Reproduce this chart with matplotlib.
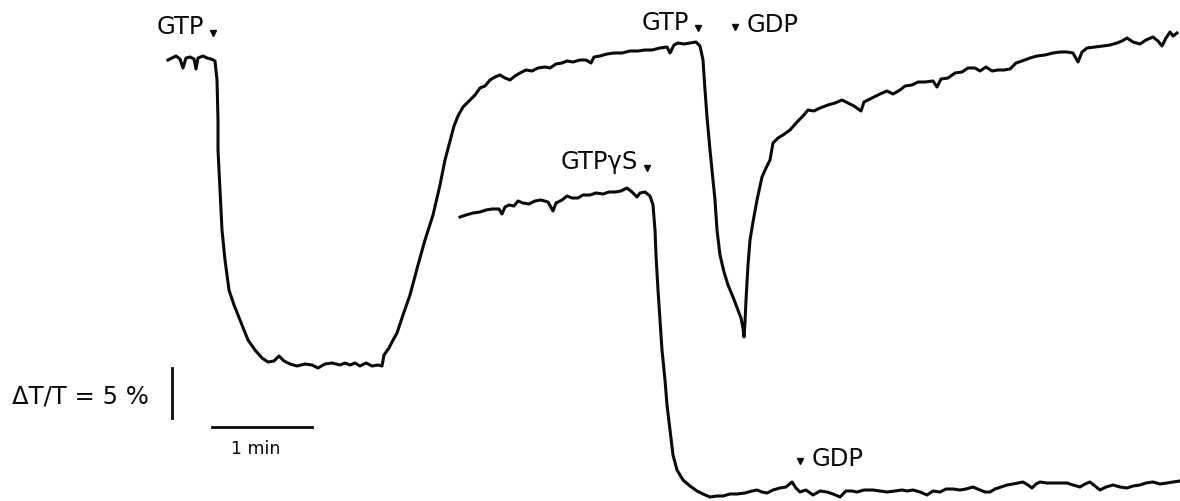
import matplotlib.pyplot as plt

# upper trace: GTP, then GTP + GDP  (time in min, signal in % dT/T, arbitrary offset)
t_gtp = [-0.02, 0.02, 0.06, 0.10, 0.13, 0.16, 0.20, 0.24, 0.26, 0.28, 0.33, 0.37, 0.41, 0.45,
         0.47, 0.48, 0.48, 0.50, 0.52, 0.55, 0.59, 0.64, 0.70, 0.78, 0.85, 0.92, 0.98, 1.04,
         1.09, 1.14, 1.20, 1.27, 1.35, 1.42, 1.48, 1.55, 1.62, 1.70, 1.75, 1.80, 1.85, 1.90,
         1.96, 2.02, 2.08, 2.12, 2.14, 2.19, 2.22, 2.27, 2.33, 2.40, 2.48, 2.55, 2.63, 2.70,
         2.75, 2.79, 2.84, 2.88, 2.93, 3.00, 3.05, 3.10, 3.15, 3.20, 3.25, 3.30, 3.35, 3.40,
         3.45, 3.50, 3.56, 3.62, 3.68, 3.75, 3.80, 3.86, 3.92, 3.97, 4.03, 4.10, 4.16, 4.21,
         4.24, 4.30, 4.37, 4.44, 4.52, 4.60, 4.68, 4.75, 4.82, 4.90, 4.97, 5.00, 5.04, 5.08,
         5.14, 5.20, 5.26, 5.30, 5.33, 5.35, 5.37, 5.40, 5.43, 5.45, 5.47, 5.50, 5.54, 5.58,
         5.63, 5.68, 5.71, 5.73, 5.74, 5.75, 5.76, 5.78, 5.80, 5.83, 5.87, 5.92, 5.96, 6.00,
         6.03, 6.08, 6.13, 6.20, 6.27, 6.33, 6.38, 6.44, 6.50, 6.58, 6.65, 6.72, 6.78, 6.84,
         6.91, 6.94, 7.02, 7.10, 7.17, 7.23, 7.30, 7.35, 7.42, 7.48, 7.55, 7.63, 7.67, 7.71,
         7.78, 7.85, 7.92, 7.98, 8.05, 8.10, 8.16, 8.22, 8.28, 8.34, 8.40, 8.46, 8.52, 8.60,
         8.67, 8.75, 8.83, 8.90, 8.97, 9.03, 9.08, 9.12, 9.17, 9.25, 9.33, 9.40, 9.47, 9.52,
         9.57, 9.63, 9.70, 9.76, 9.83, 9.88, 9.92, 9.96, 10.00, 10.03, 10.07]
s_gtp = [44.0, 44.2, 44.4, 44.1, 43.2, 44.2, 44.3, 44.1, 43.1, 44.2, 44.4, 44.2, 44.1, 43.9,
         42.0, 38.0, 35.0, 31.0, 27.0, 24.0, 21.0, 19.5, 18.0, 16.0, 15.0, 14.2, 13.8, 13.9,
         14.4, 13.9, 13.6, 13.4, 13.6, 13.5, 13.2, 13.6, 13.7, 13.5, 13.7, 13.5, 13.7, 13.4,
         13.7, 13.4, 13.5, 13.4, 14.5, 15.2, 15.8, 16.7, 18.5, 20.5, 23.5, 26.0, 28.5, 31.5,
         34.0, 35.5, 37.4, 38.4, 39.3, 40.0, 40.5, 41.2, 41.4, 42.0, 42.3, 42.5, 42.2, 42.0,
         42.4, 42.7, 43.0, 42.9, 43.2, 43.3, 43.2, 43.6, 43.7, 43.9, 43.8, 44.0, 44.0, 43.7,
         44.3, 44.4, 44.6, 44.7, 44.7, 44.9, 44.9, 45.0, 45.0, 45.2, 45.3, 44.7, 45.5, 45.7,
         45.6, 45.7, 45.8, 45.4, 44.0, 41.0, 38.3, 35.0, 32.0, 30.0, 27.0, 24.5, 22.8, 21.5,
         20.3, 19.0, 18.2, 17.2, 16.3, 17.8, 20.0, 23.5, 26.0, 27.8, 30.0, 32.3, 33.2, 34.0,
         35.7, 36.2, 36.5, 37.0, 37.8, 38.4, 39.0, 38.9, 39.2, 39.5, 39.7, 40.0, 39.7, 39.4,
         38.9, 39.8, 40.2, 40.6, 40.9, 40.6, 41.0, 41.4, 41.5, 41.8, 41.8, 41.9, 41.3, 42.1,
         42.2, 42.7, 42.8, 43.2, 43.2, 42.9, 43.3, 42.9, 43.0, 43.0, 43.1, 43.7, 43.9, 44.2,
         44.4, 44.5, 44.7, 44.8, 44.8, 44.7, 43.8, 44.8, 45.2, 45.3, 45.4, 45.5, 45.7, 45.9,
         46.2, 45.8, 45.6, 46.0, 46.3, 45.9, 45.4, 46.2, 46.8, 46.4, 46.7]

# lower trace: GTPgammaS, then GDP
t_gtps = [2.90, 2.96, 3.03, 3.10, 3.16, 3.22, 3.29, 3.32, 3.35, 3.39, 3.44, 3.48, 3.53, 3.59,
          3.65, 3.71, 3.78, 3.83, 3.86, 3.92, 3.97, 4.02, 4.08, 4.13, 4.20, 4.26, 4.33, 4.39,
          4.45, 4.51, 4.57, 4.62, 4.67, 4.70, 4.75, 4.80, 4.83, 4.85, 4.86, 4.88, 4.90, 4.92,
          4.95, 4.97, 5.00, 5.03, 5.07, 5.13, 5.20, 5.27, 5.33, 5.40, 5.47, 5.53, 5.60, 5.67,
          5.75, 5.82, 5.87, 5.92, 5.97, 6.03, 6.10, 6.16, 6.22, 6.26, 6.30, 6.36, 6.43, 6.50,
          6.57, 6.63, 6.70, 6.76, 6.82, 6.87, 6.94, 7.03, 7.10, 7.17, 7.25, 7.32, 7.37, 7.43,
          7.50, 7.57, 7.63, 7.70, 7.76, 7.83, 7.90, 7.96, 8.03, 8.10, 8.15, 8.20, 8.25, 8.31,
          8.37, 8.43, 8.48, 8.53, 8.58, 8.62, 8.66, 8.70, 8.77, 8.83, 8.90, 8.97, 9.03, 9.10,
          9.15, 9.20, 9.25, 9.30, 9.36, 9.43, 9.50, 9.57, 9.63, 9.70, 9.76, 9.83, 9.90, 9.97,
          10.03, 10.10]
s_gtps = [28.3, 28.5, 28.7, 28.8, 29.0, 29.1, 29.1, 28.6, 29.3, 29.5, 29.4, 29.9, 29.7, 29.6,
          29.9, 30.0, 29.8, 28.9, 29.7, 30.0, 30.4, 30.2, 30.2, 30.5, 30.5, 30.7, 30.6, 30.8,
          30.8, 30.9, 31.2, 30.8, 30.3, 30.7, 30.8, 30.4, 29.5, 27.0, 24.5, 21.0, 18.0, 15.0,
          12.0, 9.5, 7.0, 4.5, 3.0, 2.0, 1.4, 0.9, 0.6, 0.3, 0.4, 0.4, 0.6, 0.6,
          0.7, 0.9, 1.0, 0.8, 0.7, 1.0, 1.2, 1.3, 1.8, 1.2, 0.8, 1.0, 0.5, 0.9,
          0.8, 0.6, 0.3, 0.9, 0.9, 0.8, 1.0, 1.0, 0.9, 0.8, 0.9, 1.0, 0.9, 1.0,
          0.8, 0.5, 0.9, 0.8, 1.1, 1.1, 1.0, 1.1, 1.3, 1.0, 0.8, 0.8, 1.1, 1.3,
          1.5, 1.6, 1.7, 1.8, 1.5, 1.2, 1.6, 1.8, 1.7, 1.7, 1.7, 1.7, 1.5, 1.3,
          1.6, 1.8, 1.4, 1.0, 1.3, 1.5, 1.3, 1.2, 1.4, 1.5, 1.7, 1.8, 1.6, 1.7,
          1.8, 1.9]

# additions: (label, time of addition, signal level of the mark)
marks = [('GTP', 0.43, 46.7), ('GTP', 5.28, 47.2), ('GDP', 5.65, 47.3),
         ('GTP\u03b3S', 4.77, 33.2), ('GDP', 6.30, 3.9)]

ink = '#0a0a0a'
fig = plt.figure(figsize=(11.8, 5.01), dpi=100)
ax = fig.add_axes([0, 0, 1, 1])
ax.set_xlim(-1.70, 10.10)
ax.set_ylim(-0.1, 50.0)
ax.axis('off')

ax.plot(t_gtp, s_gtp, color=ink, lw=2.2, solid_joinstyle='round')
ax.plot(t_gtps, s_gtps, color=ink, lw=2.2, solid_joinstyle='round')

fs = 17.5
for lab, t, s in marks:
    ax.plot(t, s, marker='v', ms=4.5, color=ink, mec=ink)
    if lab == 'GDP':
        ax.text(t + 0.12, s + 0.25, lab, fontsize=fs, color=ink, ha='left', va='center')
    else:
        ax.text(t - 0.09, s + 0.55, lab, fontsize=fs, color=ink, ha='right', va='center')

# scale bars
ax.plot([0.02, 0.02], [8.2, 13.2], color=ink, lw=2.0)
ax.text(-1.58, 10.3, '\u0394T/T = 5 %', fontsize=fs, color=ink, ha='left', va='center')
ax.plot([0.42, 1.42], [7.3, 7.3], color=ink, lw=2.0)
ax.text(0.86, 5.1, '1 min', fontsize=12.5, color=ink, ha='center', va='center')

fig.savefig('out.png', dpi=100)
